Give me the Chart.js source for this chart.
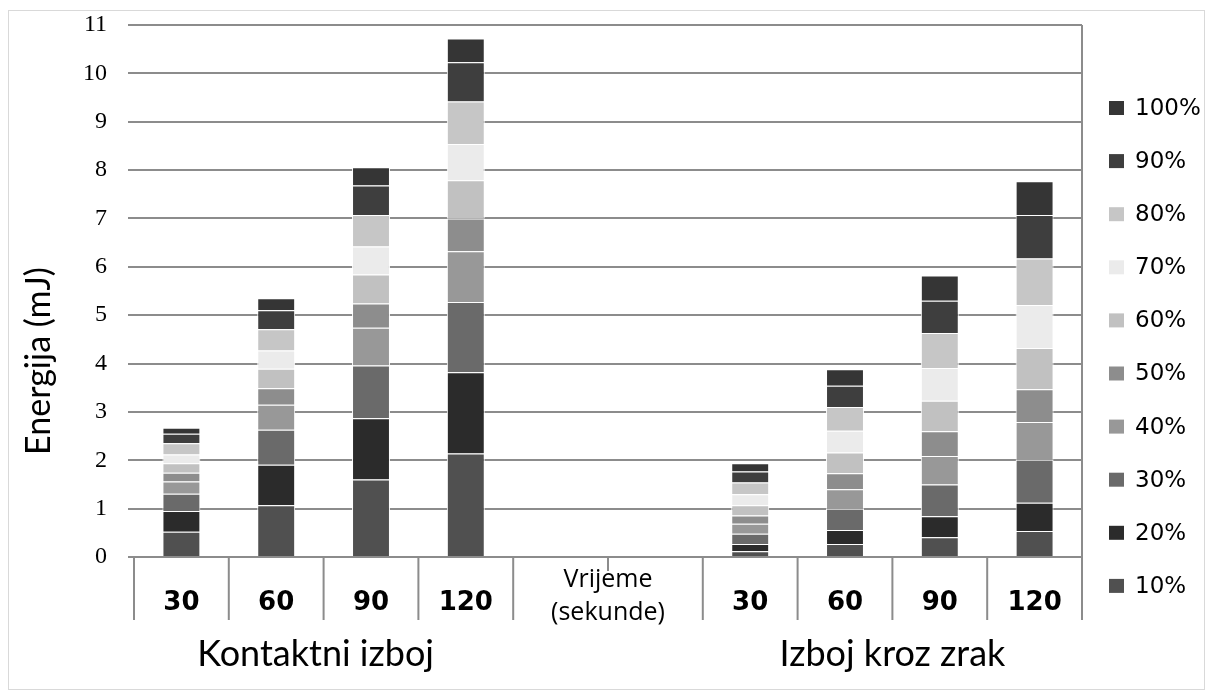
<!DOCTYPE html>
<html>
<head>
<meta charset="utf-8">
<title>Energija</title>
<script src="https://cdn.jsdelivr.net/npm/chart.js@4.4.0/dist/chart.umd.min.js"></script>
<style>
    html, body {
        margin: 0;
        padding: 0;
        background: #fff;
    }
    #container {
        width: 1206px;
        height: 697px;
    }
</style>
</head>
<body>
<div id="container">
    <canvas id="vis"></canvas>
</div>
<script>
    // columns: 4 contact, 2 empty (axis note), 4 air discharge
    const timeLabels = ['30', '60', '90', '120', '', '', '30', '60', '90', '120'];
    const groupLabels = ['Kontaktni izboj', 'Izboj kroz zrak'];
    const axisNote = ['Vrijeme', '(sekunde)'];
    const yTitle = 'Energija (mJ)';
    const seriesLabels = ['10%', '20%', '30%', '40%', '50%', '60%', '70%', '80%', '90%', '100%'];
    const colors = ['#505050', '#2b2b2b', '#6a6a6a', '#989898', '#8d8d8d', '#c1c1c1', '#ebebeb', '#c6c6c6', '#3e3e3e', '#353535'];

    // segment heights (mJ) per column
    const s10  = [0.52, 1.07, 1.60, 2.14, null, null, 0.12, 0.27, 0.41, 0.54];
    const s20  = [0.43, 0.84, 1.27, 1.68, null, null, 0.15, 0.29, 0.43, 0.58];
    const s30  = [0.36, 0.72, 1.09, 1.45, null, null, 0.21, 0.44, 0.66, 0.89];
    const s40  = [0.25, 0.52, 0.78, 1.05, null, null, 0.21, 0.40, 0.59, 0.78];
    const s50  = [0.18, 0.34, 0.50, 0.68, null, null, 0.17, 0.33, 0.51, 0.68];
    const s60  = [0.20, 0.40, 0.60, 0.79, null, null, 0.21, 0.43, 0.63, 0.85];
    const s70  = [0.18, 0.38, 0.58, 0.75, null, null, 0.23, 0.45, 0.68, 0.89];
    const s80  = [0.23, 0.44, 0.65, 0.88, null, null, 0.24, 0.49, 0.72, 0.96];
    const s90  = [0.20, 0.39, 0.61, 0.81, null, null, 0.23, 0.44, 0.67, 0.90];
    const s100 = [0.12, 0.25, 0.38, 0.49, null, null, 0.17, 0.34, 0.52, 0.70];
    const series = [s10, s20, s30, s40, s50, s60, s70, s80, s90, s100];

    const datasets = series.map((data, i) => ({
        label: seriesLabels[i],
        data,
        backgroundColor: colors[i],
        borderColor: '#ffffff',
        borderWidth: 1,
        categoryPercentage: 1.0,
        barPercentage: 0.4
    }));

    const sans = '"Open Sans", sans-serif';
    const verdana = '"DejaVu Sans", sans-serif';

    const decor = {
        id: 'decor',
        afterDraw(chart) {
            const ctx = chart.ctx;
            const area = chart.chartArea;
            const xs = chart.scales.x;
            const w = (area.right - area.left) / timeLabels.length;
            const tableBottom = 620;

            ctx.save();
            // outer frame
            ctx.strokeStyle = '#d9d9d9';
            ctx.lineWidth = 1;
            ctx.strokeRect(8.5, 10.5, 1196, 679);

            // right border and category table dividers
            ctx.strokeStyle = '#8c8c8c';
            ctx.lineWidth = 2;
            ctx.beginPath();
            ctx.moveTo(area.right, area.top);
            ctx.lineTo(area.right, tableBottom);
            for (let k = 0; k < timeLabels.length; k++) {
                const x = area.left + k * w;
                ctx.moveTo(x, area.bottom);
                ctx.lineTo(x, k === 5 ? area.bottom + 14 : tableBottom);
            }
            ctx.stroke();

            // time labels
            ctx.fillStyle = '#000';
            ctx.textAlign = 'center';
            ctx.textBaseline = 'middle';
            ctx.font = 'bold 26px ' + verdana;
            timeLabels.forEach((t, i) => {
                if (t) ctx.fillText(t, xs.getPixelForValue(i), 603);
            });

            // axis note in the middle
            const mid = (xs.getPixelForValue(4) + xs.getPixelForValue(5)) / 2;
            ctx.font = '25px ' + sans;
            ctx.fillText(axisNote[0], mid, 580);
            ctx.fillText(axisNote[1], mid, 613);

            // group labels
            ctx.font = '36px Lato, sans-serif';
            ctx.fillText(groupLabels[0], (xs.getPixelForValue(0) + xs.getPixelForValue(3)) / 2 - 8, 654);
            ctx.fillText(groupLabels[1], (xs.getPixelForValue(6) + xs.getPixelForValue(9)) / 2, 654);

            // y title
            ctx.save();
            ctx.translate(39, 361);
            ctx.rotate(-Math.PI / 2);
            ctx.font = '34px Lato, sans-serif';
            ctx.fillText(yTitle, 0, 0);
            ctx.restore();

            // legend, top item = last series
            ctx.textAlign = 'left';
            ctx.font = '23px ' + verdana;
            const items = chart.data.datasets.slice().reverse();
            items.forEach((ds, i) => {
                const y = 108 + i * 53.1;
                ctx.fillStyle = ds.backgroundColor;
                ctx.fillRect(1109, y - 7, 15, 14);
                ctx.fillStyle = '#000';
                ctx.fillText(ds.label, 1135, y + 1);
            });
            ctx.restore();
        }
    };

    new Chart(document.getElementById('vis'), {
        type: 'bar',
        data: { labels: timeLabels, datasets },
        plugins: [decor],
        options: {
            responsive: true,
            maintainAspectRatio: false,
            animation: false,
            layout: { padding: { top: 25, right: 124, bottom: 140, left: 0 } },
            plugins: {
                legend: { display: false },
                tooltip: { enabled: false }
            },
            scales: {
                x: {
                    stacked: true,
                    display: false
                },
                y: {
                    stacked: true,
                    min: 0,
                    max: 11,
                    afterFit(scale) {
                        scale.width = 134;
                        scale.paddingTop = 0;
                        scale.paddingBottom = 0;
                    },
                    border: { display: false },
                    grid: {
                        color: (c) => Number.isInteger(c.tick.value) ? '#8c8c8c' : '#bdbdbd',
                        lineWidth: 2,
                        tickLength: 6
                    },
                    ticks: {
                        stepSize: 0.5,
                        padding: 21,
                        color: '#000',
                        font: { family: '"Liberation Serif", serif', size: 24 },
                        callback: (v) => Number.isInteger(v) ? v : ''
                    }
                }
            }
        }
    });
</script>
</body>
</html>
